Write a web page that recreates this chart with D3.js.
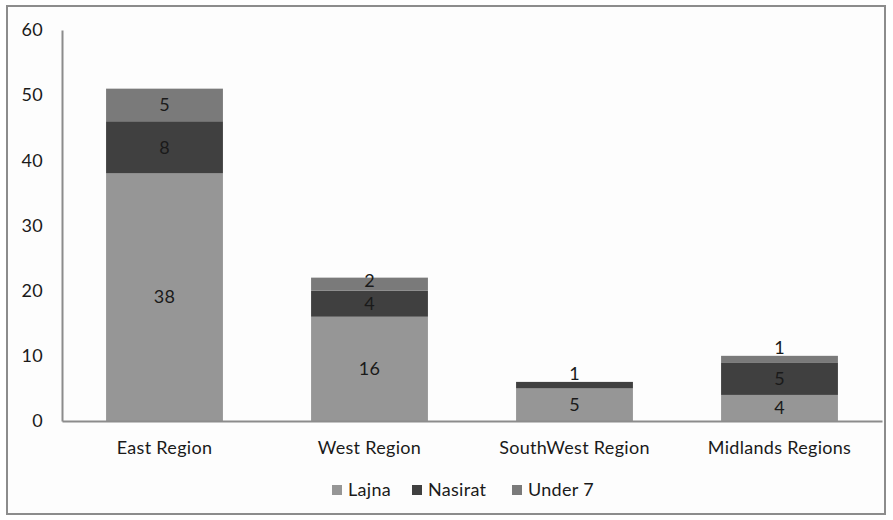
<!DOCTYPE html>
<html><head><meta charset="utf-8">
<script src="https://cdn.jsdelivr.net/npm/d3@7"></script>
<style>body{margin:0;background:#fff}svg{display:block}text{font-family:Lato,"Open Sans",sans-serif;fill:#1a1a1a;letter-spacing:0.3px}</style>
</head><body><svg id="c" width="893" height="520"></svg>
<script>
const categories = ["East Region", "West Region", "SouthWest Region", "Midlands Regions"];
const seriesNames = ["Lajna", "Nasirat", "Under 7"];
const lajna = [38, 16, 5, 4];
const nasirat = [8, 4, 1, 5];
const under7 = [5, 2, 0, 1];
const yTicks = [0, 10, 20, 30, 40, 50, 60];
const colors = ["#969696", "#404040", "#7a7a7a"];

(function () {
const FS = 18;
const svg = d3.select("#c");
svg.append("rect").attr("x", 7).attr("y", 6).attr("width", 878).attr("height", 508)
  .attr("fill", "#fdfdfd").attr("stroke", "#8c8c8c").attr("stroke-width", 2);

const mLeft = 62, mRight = 882, mTop = 30, mBottom = 421;
const x = d3.scaleBand().domain(categories).range([mLeft, mRight]).paddingInner(0.43).paddingOuter(0.215);
const y = d3.scaleLinear().domain([0, 60]).range([mBottom, mTop]);

const rows = categories.map((c, i) => ({cat: c, Lajna: lajna[i], Nasirat: nasirat[i], "Under 7": under7[i]}));
const stacked = d3.stack().keys(seriesNames)(rows);

const yAxis = d3.axisLeft(y).tickValues(yTicks).tickSize(0).tickPadding(19);
const gy = svg.append("g").attr("transform", `translate(${mLeft},0)`).call(yAxis);
gy.select(".domain").attr("stroke", "#8c8c8c").attr("stroke-width", 2);
gy.selectAll("text").attr("font-size", FS).attr("fill", "#1a1a1a").attr("font-family", "Lato");

stacked.forEach((s, si) => {
  svg.append("g").selectAll("rect").data(s).join("rect")
    .attr("x", d => x(d.data.cat)).attr("width", x.bandwidth())
    .attr("y", d => y(d[1])).attr("height", d => y(d[0]) - y(d[1]))
    .attr("fill", colors[si]);
});

const xAxis = d3.axisBottom(x).tickSize(0).tickPadding(20);
const gx = svg.append("g").attr("transform", `translate(0,${mBottom})`).call(xAxis);
gx.select(".domain").attr("stroke", "#8c8c8c").attr("stroke-width", 2);
gx.selectAll("text").attr("font-size", FS).attr("fill", "#1a1a1a").attr("font-family", "Lato");

stacked.forEach((s, si) => {
  s.forEach(d => {
    const v = d[1] - d[0];
    if (v <= 0) return;
    const h = y(d[0]) - y(d[1]);
    const cx = x(d.data.cat) + x.bandwidth() / 2;
    let cy = (y(d[0]) + y(d[1])) / 2;
    if (h < 10) cy = y(d[1]) - 8;
    else if (h < 20) cy -= 3;
    svg.append("text").attr("x", cx).attr("y", cy).attr("dy", "0.35em")
      .attr("text-anchor", "middle").attr("font-size", FS).text(v);
  });
});

const legendX = [332, 412, 512];
seriesNames.forEach((n, i) => {
  const g = svg.append("g").attr("transform", `translate(${legendX[i]},490)`);
  g.append("rect").attr("x", 0).attr("y", -5).attr("width", 10).attr("height", 10).attr("fill", colors[i]);
  g.append("text").attr("x", 16).attr("y", 0).attr("dy", "0.35em").attr("font-size", FS).text(n);
});
})();
</script></body></html>
